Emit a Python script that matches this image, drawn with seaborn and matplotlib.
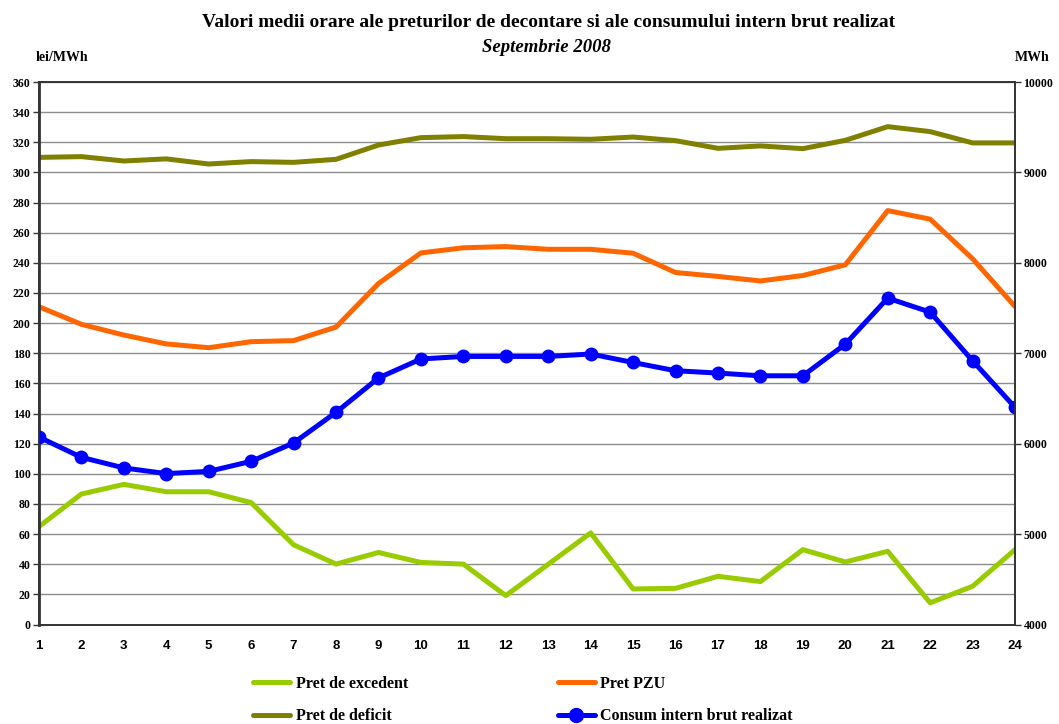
import matplotlib
matplotlib.use("Agg")
import matplotlib.pyplot as plt
import pandas as pd
import seaborn as sns
from matplotlib.lines import Line2D

sns.set_style("white")
plt.rcParams["font.family"] = ["Liberation Serif", "DejaVu Serif"]
plt.rcParams["text.color"] = "black"
plt.rcParams["xtick.color"] = "black"
plt.rcParams["ytick.color"] = "black"

hours = list(range(1, 25))

pret_excedent = [65, 86.6, 93, 88.1, 88.1, 80.9, 52.9, 40.1, 47.8, 41.2, 40.1, 19.2,
                 40, 60.8, 23.6, 24, 32, 28.5, 49.7, 41.5, 48.6, 14.4, 25.4, 49.7]
pret_pzu = [210.9, 199.2, 192.1, 186.2, 183.7, 187.7, 188.4, 197.4, 226.3, 246.6, 250, 250.8,
            249, 249, 246.4, 233.6, 231, 228, 231.6, 238.7, 274.7, 269, 242.7, 211]
pret_deficit = [310, 310.5, 307.6, 309, 305.6, 307.2, 306.7, 308.7, 318.2, 323.1, 323.8, 322.4,
                322.4, 322, 323.5, 321.1, 316, 317.6, 315.8, 321.3, 330.4, 327.1, 319.6, 319.6]
consum = [6073, 5849, 5732, 5669, 5694, 5805, 6008, 6347, 6727, 6937, 6965, 6965,
          6965, 6992, 6898, 6807, 6781, 6751, 6751, 7101, 7610, 7455, 6917, 6401]

df = pd.DataFrame({"ora": hours, "excedent": pret_excedent, "pzu": pret_pzu,
                   "deficit": pret_deficit, "consum": consum})

c_exc, c_pzu, c_def, c_con = "#99CC00", "#FF6600", "#808000", "#0000FF"

fig = plt.figure(figsize=(10.59, 7.24), dpi=100)
ax = fig.add_axes([0.0368, 0.1374, 0.9217, 0.7493])
ax2 = ax.twinx()

for a in (ax, ax2):
    a.set_facecolor("none")

sns.lineplot(data=df, x="ora", y="excedent", ax=ax, color=c_exc, linewidth=3.6)
sns.lineplot(data=df, x="ora", y="pzu", ax=ax, color=c_pzu, linewidth=3.6)
sns.lineplot(data=df, x="ora", y="deficit", ax=ax, color=c_def, linewidth=3.6)
sns.lineplot(data=df, x="ora", y="consum", ax=ax2, color=c_con, linewidth=3.6,
             marker="o", markersize=10, markeredgewidth=0)

ax.set_xlim(1, 24)
ax.set_ylim(0, 360)
ax.set_yticks(range(0, 361, 20))
ax2.set_ylim(4000, 10000)
ax2.set_yticks(range(4000, 10001, 1000))
ax.set_xticks(hours)
ax.set_xlabel("")
ax.set_ylabel("")
ax2.set_ylabel("")

ax.grid(axis="y", color="#8c8c8c", linewidth=1)
ax.set_axisbelow(True)

for a in (ax, ax2):
    for s in a.spines.values():
        s.set_color("#333333")
        s.set_linewidth(1.2)
ax.spines["left"].set_linewidth(2)

ax.tick_params(axis="y", direction="out", length=4, width=1, color="#333333",
               labelsize=8.5, pad=2)
ax2.tick_params(axis="y", direction="out", length=4, width=1, color="#333333",
                labelsize=8.5, pad=2)
ax.tick_params(axis="x", direction="out", length=4, width=1, color="#333333", pad=7)
for lab in ax.get_yticklabels() + ax2.get_yticklabels():
    lab.set_fontweight("bold")
for lab in ax.get_xticklabels():
    lab.set_fontweight("bold")
    lab.set_family(["Liberation Sans", "DejaVu Sans"])
    lab.set_fontsize(9.5)

fig.text(0.518, 0.969, "Valori medii orare ale preturilor de decontare si ale consumului intern brut realizat",
         ha="center", va="center", fontsize=14, fontweight="bold")
fig.text(0.516, 0.934, "Septembrie 2008", ha="center", va="center", fontsize=13.5,
         fontweight="bold", style="italic")
fig.text(0.059, 0.92, "lei/MWh", ha="center", va="center", fontsize=10, fontweight="bold")
fig.text(0.975, 0.92, "MWh", ha="center", va="center", fontsize=10, fontweight="bold")

handles = [
    Line2D([], [], color=c_exc, linewidth=3.6),
    Line2D([], [], color=c_def, linewidth=3.6),
    Line2D([], [], color=c_pzu, linewidth=3.6),
    Line2D([], [], color=c_con, linewidth=3.6, marker="o", markersize=10),
]
labels = ["Pret de excedent", "Pret de deficit", "Pret PZU", "Consum intern brut realizat"]
fig.legend(handles, labels, ncol=2, loc="center", bbox_to_anchor=(0.494, 0.033),
           frameon=False, prop={"weight": "bold", "size": 11.5}, handlelength=2.3,
           handletextpad=0.35, columnspacing=9.4, labelspacing=1.05)

fig.savefig("out.png", dpi=100)
